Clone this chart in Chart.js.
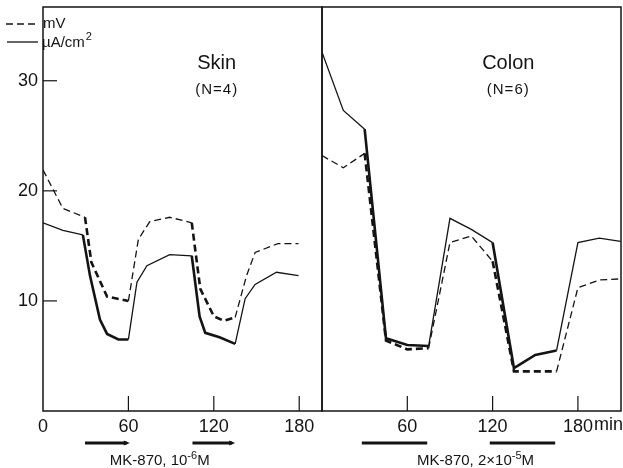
<!DOCTYPE html>
<html>
<head>
<meta charset="utf-8">
<script src="https://cdn.jsdelivr.net/npm/chart.js"></script>
<style>
  body { margin: 0; background: #fff; }
  #wrap { position: relative; width: 623px; height: 468px; overflow: hidden; background: #fff; }
  canvas { position: absolute; top: 0; }
  #skin-chart { left: 0; }
  #colon-chart { left: 321px; }
</style>
</head>
<body>
<div id="wrap">
  <canvas id="skin-chart" width="323" height="468"></canvas>
  <canvas id="colon-chart" width="302" height="468"></canvas>
</div>
<script>
// Skin (N=4)
const skinMvTime = [0, 14, 29.5, 34, 45, 60, 67, 75, 89, 104.5, 110.5, 120, 127, 135, 143, 149, 165, 179.5];
const skinMv = [21.9, 18.4, 17.6, 13.5, 10.4, 10.0, 15.6, 17.2, 17.6, 17.1, 11.1, 8.6, 8.2, 8.5, 12.3, 14.4, 15.2, 15.2];
const skinUaTime = [0, 14, 28, 33, 40, 45, 53, 60, 66, 73, 89, 104.5, 110, 114, 124, 135, 142, 149, 164, 179.5];
const skinUa = [17.1, 16.4, 16.0, 12.3, 8.3, 7.0, 6.5, 6.5, 11.7, 13.2, 14.2, 14.1, 8.6, 7.1, 6.7, 6.1, 10.2, 11.5, 12.6, 12.3];

// Colon (N=6), sampled every 15 min
const colonTime = [0, 15, 30, 45, 60, 75, 90, 105, 120, 135, 150, 165, 180, 195, 210];
const colonMv = [23.2, 22.1, 23.4, 6.4, 5.6, 5.7, 15.3, 15.9, 13.6, 3.6, 3.6, 3.6, 11.2, 11.9, 12.0];
const colonUa = [32.6, 27.3, 25.6, 6.6, 6.0, 5.9, 17.5, 16.5, 15.3, 3.9, 5.1, 5.5, 15.3, 15.7, 15.4];

// drug application periods (min)
const skinDrug = [[29.5, 61], [105, 135]];
const colonDrug = [[28, 74], [118, 164]];

const skinXTicks = [0, 60, 120, 180];
const colonXTicks = [60, 120, 180];
const yTicks = [10, 20, 30];

const INK = '#141414';
const NARROW = '"Liberation Sans Narrow", "Arial Narrow", sans-serif';
const SANS = '"Liberation Sans", Arial, sans-serif';

function toPoints(times, values) {
    return times.map((t, i) => ({ x: t, y: values[i] }));
}

function inDrug(periods, a, b) {
    const mid = (a + b) / 2;
    return periods.some(([s, e]) => mid >= s - 1 && mid <= e);
}

function series(times, values, dashed, periods) {
    return {
        data: toPoints(times, values),
        borderColor: INK,
        borderWidth: 1.3,
        borderDash: dashed ? [7, 4] : [],
        pointRadius: 0,
        tension: 0,
        fill: false,
        segment: {
            borderWidth: ctx => inDrug(periods, ctx.p0.parsed.x, ctx.p1.parsed.x) ? 2.6 : 1.3
        }
    };
}

function line(ctx, x0, y0, x1, y1) {
    ctx.beginPath();
    ctx.moveTo(x0, y0);
    ctx.lineTo(x1, y1);
    ctx.stroke();
}

// caption with a raised exponent, e.g. MK-870, 10^-6 M
function drawCaption(ctx, parts, cx, cy) {
    let total = 0;
    parts.forEach(p => {
        ctx.font = (p.sup ? '11px ' : '15px ') + SANS;
        p.w = ctx.measureText(p.text).width;
        total += p.w;
    });
    let x = cx - total / 2;
    ctx.textAlign = 'left';
    ctx.textBaseline = 'alphabetic';
    parts.forEach(p => {
        ctx.font = (p.sup ? '11px ' : '15px ') + SANS;
        ctx.fillText(p.text, x, cy + (p.sup ? -6 : 0));
        x += p.w;
    });
}

function makeDecor(cfg) {
    return {
        id: 'decor',
        afterDraw(chart) {
            const ctx = chart.ctx;
            const a = chart.chartArea;
            const xs = chart.scales.x;
            const ys = chart.scales.y;
            ctx.save();
            ctx.strokeStyle = INK;
            ctx.fillStyle = INK;

            // frame
            ctx.lineWidth = 1.5;
            ctx.strokeRect(a.left, a.top, a.right - a.left, a.bottom - a.top);

            // inward tick marks
            ctx.lineWidth = 1.2;
            cfg.xTicks.forEach(v => {
                if (v <= 0) return;
                const px = xs.getPixelForValue(v);
                line(ctx, px, a.bottom, px, a.bottom - 15);
            });
            if (cfg.showY) {
                yTicks.forEach(v => {
                    const py = ys.getPixelForValue(v);
                    line(ctx, a.left, py, a.left + 14, py);
                });
            }

            // "min" unit after the last tick label
            if (cfg.unit) {
                ctx.font = '18px ' + NARROW;
                const last = cfg.xTicks[cfg.xTicks.length - 1];
                const w = ctx.measureText(String(last)).width;
                ctx.textAlign = 'left';
                ctx.textBaseline = 'middle';
                ctx.fillText(cfg.unit, xs.getPixelForValue(last) + w / 2 + 1, 425);
            }

            // panel title
            ctx.textAlign = 'center';
            ctx.textBaseline = 'middle';
            const tx = xs.getPixelForValue(cfg.titleAt);
            ctx.font = '20px ' + SANS;
            ctx.fillText(cfg.title, tx, 63);
            ctx.font = '15px ' + SANS;
            ctx.letterSpacing = '1px';
            ctx.fillText(cfg.subtitle, tx, 90);
            ctx.letterSpacing = '0px';

            // drug bars (skin bars end in small arrow tips)
            cfg.drug.forEach(([s, e]) => {
                const x0 = xs.getPixelForValue(s);
                const x1 = xs.getPixelForValue(e);
                ctx.lineWidth = 3;
                if (cfg.arrows) {
                    line(ctx, x0, 443, x1 - 3, 443);
                    ctx.beginPath();
                    ctx.moveTo(x1, 443);
                    ctx.lineTo(x1 - 6, 440.5);
                    ctx.lineTo(x1 - 6, 445.5);
                    ctx.closePath();
                    ctx.fill();
                } else {
                    line(ctx, x0, 443, x1, 443);
                }
            });

            // caption
            drawCaption(ctx, cfg.caption, xs.getPixelForValue(cfg.captionAt), 465);

            // legend (skin panel only)
            if (cfg.legend) {
                ctx.lineWidth = 1.3;
                ctx.setLineDash([7, 4]);
                line(ctx, 6, 24, 38, 24);
                ctx.setLineDash([]);
                line(ctx, 7, 42, 38, 42);
                ctx.textAlign = 'left';
                ctx.textBaseline = 'middle';
                ctx.font = '15px ' + SANS;
                ctx.fillText('mV', 43, 24);
                ctx.fillText('\u00b5A/cm', 42, 43);
                const w = ctx.measureText('\u00b5A/cm').width;
                ctx.font = '11px ' + SANS;
                ctx.fillText('2', 42 + w + 1, 37);
            }
            ctx.restore();
        }
    };
}

function noPad(s) {
    s.paddingTop = 0;
    s.paddingBottom = 0;
    s.paddingLeft = 0;
    s.paddingRight = 0;
}

function makeChart(id, datasets, cfg) {
    return new Chart(document.getElementById(id), {
        type: 'line',
        data: { datasets },
        options: {
            responsive: false,
            animation: false,
            events: [],
            layout: { padding: cfg.padding },
            plugins: { legend: { display: false }, tooltip: { enabled: false } },
            scales: {
                x: {
                    type: 'linear',
                    min: 0,
                    max: cfg.xMax,
                    afterBuildTicks: s => { s.ticks = cfg.xTicks.map(v => ({ value: v })); },
                    afterFit: s => { s.height = 57; noPad(s); },
                    grid: { display: false, drawTicks: false },
                    border: { display: false },
                    ticks: { color: INK, font: { family: NARROW, size: 18 }, padding: 5, maxRotation: 0, autoSkip: false }
                },
                y: {
                    display: cfg.showY,
                    min: 0,
                    max: 36.7,
                    afterBuildTicks: s => { s.ticks = yTicks.map(v => ({ value: v })); },
                    afterFit: s => { s.width = cfg.showY ? 43 : 0; noPad(s); },
                    grid: { display: false, drawTicks: false },
                    border: { display: false },
                    ticks: { color: INK, font: { family: NARROW, size: 18 }, padding: 5 }
                }
            }
        },
        plugins: [makeDecor(cfg)]
    });
}

makeChart('skin-chart', [
    series(skinMvTime, skinMv, true, skinDrug),
    series(skinUaTime, skinUa, false, skinDrug)
], {
    padding: { top: 7, right: 1, left: 0, bottom: 0 },
    xMax: 196,
    xTicks: skinXTicks,
    showY: true,
    title: 'Skin',
    subtitle: '(N=4)',
    titleAt: 122,
    drug: skinDrug,
    arrows: true,
    caption: [{ text: 'MK-870, 10' }, { text: '-6', sup: true }, { text: 'M' }],
    captionAt: 82,
    legend: true
});

makeChart('colon-chart', [
    series(colonTime, colonMv, true, colonDrug),
    series(colonTime, colonUa, false, colonDrug)
], {
    padding: { top: 7, right: 2, left: 1, bottom: 0 },
    xMax: 210.3,
    xTicks: colonXTicks,
    showY: false,
    unit: 'min',
    title: 'Colon',
    subtitle: '(N=6)',
    titleAt: 131,
    drug: colonDrug,
    arrows: false,
    caption: [{ text: 'MK-870, 2\u00d710' }, { text: '-5', sup: true }, { text: 'M' }],
    captionAt: 108
});
</script>
</body>
</html>
